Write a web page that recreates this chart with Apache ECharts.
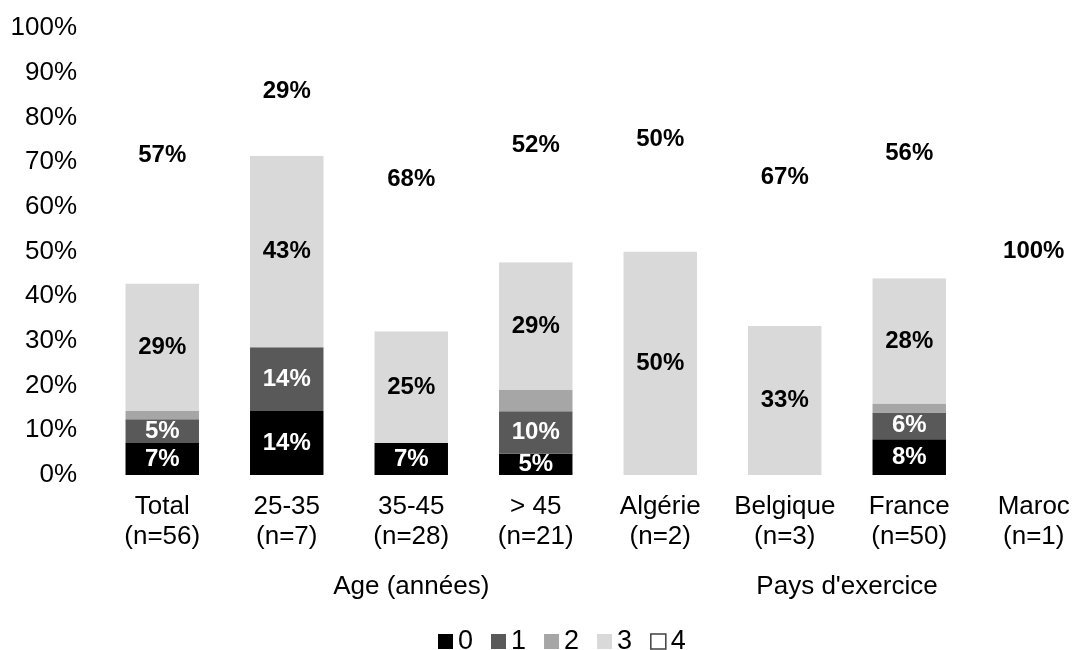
<!DOCTYPE html>
<html>
<head>
<meta charset="utf-8">
<script src="https://cdn.jsdelivr.net/npm/echarts@6/dist/echarts.min.js"></script>
<style>
html,body{margin:0;padding:0;background:#fff;}
#chart{width:1074px;height:650px;}
</style>
</head>
<body>
<div id="chart"></div>
<script>
var categories = ['Total\n(n=56)', '25-35\n(n=7)', '35-45\n(n=28)', '> 45\n(n=21)', 'Algérie\n(n=2)', 'Belgique\n(n=3)', 'France\n(n=50)', 'Maroc\n(n=1)'];
var seriesNames = ['0', '1', '2', '3', '4'];
var s0 = [7.14, 14.29, 7.14, 4.76, 0, 0, 8, 0];
var s1 = [5.36, 14.29, 0, 9.52, 0, 0, 6, 0];
var s2 = [1.79, 0, 0, 4.76, 0, 0, 2, 0];
var s3 = [28.57, 42.86, 25, 28.57, 50, 33.33, 28, 0];
var s4 = [57.14, 28.57, 67.86, 52.38, 50, 66.67, 56, 100];
var groupLabels = [{pos: 2.5, text: 'Age (années)'}, {pos: 6, text: "Pays d'exercice"}];
var yTicks = [0, 10, 20, 30, 40, 50, 60, 70, 80, 90, 100];

var FONT = '"Liberation Sans", Arial, sans-serif';
var colors = ['#000000', '#595959', '#a6a6a6', '#d9d9d9', '#ffffff'];
var labelColors = ['#ffffff', '#ffffff', '#000000', '#000000', '#000000'];
var showLabel = [true, true, false, true, true];
var allData = [s0, s1, s2, s3, s4];

var chart = echarts.init(document.getElementById('chart'));
var series = allData.map(function (d, i) {
  return {
    name: seriesNames[i],
    type: 'bar',
    stack: 'total',
    barWidth: '59%',
    data: d,
    itemStyle: {color: colors[i]},
    emphasis: {disabled: true},
    label: {
      show: showLabel[i],
      position: 'inside',
      color: labelColors[i],
      fontFamily: FONT,
      fontWeight: 'bold',
      fontSize: 24,
      formatter: function (p) { return p.value > 0 ? Math.round(p.value) + '%' : ''; }
    }
  };
});

chart.setOption({
  animation: false,
  backgroundColor: '#fff',
  grid: {left: 100, width: 996, top: 28, bottom: 175, containLabel: false, outerBoundsMode: 'none'},
  legend: {
    top: 623,
    left: 433,
    itemWidth: 15,
    itemHeight: 15,
    itemGap: 18,
    icon: 'rect',
    textStyle: {fontFamily: FONT, fontSize: 27, color: '#000', padding: [0, 0, 0, 0]},
    data: [
      {name: '0'}, {name: '1'}, {name: '2'}, {name: '3'},
      {name: '4', itemStyle: {color: '#fff', borderColor: '#404040', borderWidth: 1.5}}
    ]
  },
  xAxis: [{
    type: 'category',
    data: categories,
    axisLine: {show: false},
    axisTick: {show: false},
    axisLabel: {
      interval: 0,
      margin: 17,
      fontFamily: FONT,
      fontSize: 26,
      lineHeight: 30,
      color: '#000'
    }
  }, {
    type: 'value',
    min: 0,
    max: categories.length,
    interval: 0.5,
    position: 'bottom',
    offset: 0,
    axisLine: {show: false},
    axisTick: {show: false},
    splitLine: {show: false},
    axisLabel: {
      margin: 99,
      fontFamily: FONT,
      fontSize: 26,
      color: '#000',
      showMinLabel: true,
      showMaxLabel: true,
      formatter: function (v) {
        for (var k = 0; k < groupLabels.length; k++) {
          if (Math.abs(groupLabels[k].pos - v) < 1e-6) return groupLabels[k].text;
        }
        return '';
      }
    }
  }],
  yAxis: {
    type: 'value',
    min: yTicks[0],
    max: yTicks[yTicks.length - 1],
    interval: yTicks[1] - yTicks[0],
    axisLine: {show: false},
    axisTick: {show: false},
    splitLine: {show: false},
    axisLabel: {
      margin: 23,
      fontFamily: FONT,
      fontSize: 26,
      color: '#000',
      formatter: '{value}%'
    }
  },
  series: series
});
</script>
</body>
</html>
